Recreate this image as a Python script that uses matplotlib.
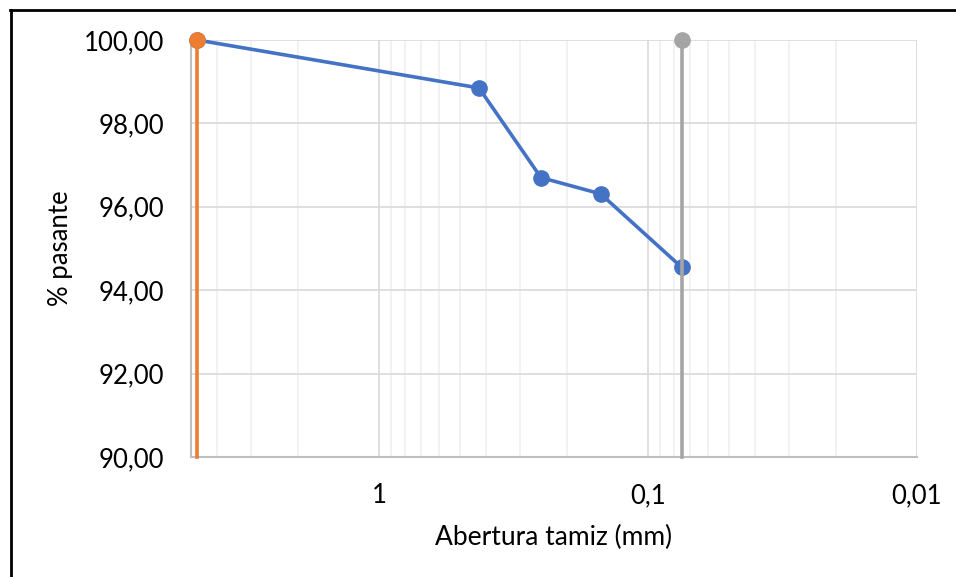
import matplotlib
matplotlib.use('Agg')
import matplotlib.pyplot as plt
from matplotlib.lines import Line2D
from matplotlib.ticker import FixedLocator, FuncFormatter, NullFormatter
import numpy as np

plt.rcParams['font.family'] = ['Lato', 'DejaVu Sans']

# Sieve openings (mm) and percent passing
abertura = [4.75, 0.425, 0.25, 0.15, 0.075]
pasante = [100.0, 98.85, 96.70, 96.31, 94.55]

# Reference verticals: No. 4 and No. 200 sieves
tamiz_4 = [4.75, 4.75]
tamiz_200 = [0.075, 0.075]
limites_y = [90.0, 100.0]

x_ticks = [1, 0.1, 0.01]
x_ticklabels = ['1', '0,1', '0,01']
y_ticks = [90, 92, 94, 96, 98, 100]

fig = plt.figure(figsize=(9.56, 5.77), dpi=100)
ax = fig.add_axes([0.1998, 0.208, 0.7594, 0.7227])

ax.set_xscale('log')
ax.set_xlim(5, 0.01)
ax.set_ylim(90, 100)

minor = [m * d for d in (0.01, 0.1, 1) for m in range(2, 10) if m * d <= 5]
ax.xaxis.set_major_locator(FixedLocator(x_ticks))
ax.xaxis.set_major_formatter(FuncFormatter(lambda v, p: x_ticklabels[x_ticks.index(v)] if v in x_ticks else ''))
ax.xaxis.set_minor_locator(FixedLocator(minor))
ax.xaxis.set_minor_formatter(NullFormatter())
ax.yaxis.set_major_locator(FixedLocator(y_ticks))
ax.yaxis.set_major_formatter(FuncFormatter(lambda v, p: f'{v:.2f}'.replace('.', ',')))

ax.grid(True, which='major', color='#d9d9d9', linewidth=1.2)
ax.grid(True, which='minor', axis='x', color='#f0f0f0', linewidth=1.2)
ax.set_axisbelow(True)

ax.tick_params(which='both', length=0, labelsize=18.5, pad=19)
for s in ('top', 'right'):
    ax.spines[s].set_visible(False)
for s in ('left', 'bottom'):
    ax.spines[s].set_color('#bfbfbf')
    ax.spines[s].set_linewidth(1.5)

ax.plot(abertura, pasante, color='#4472C4', linewidth=2.6, marker='o',
        markersize=11, clip_on=False, zorder=3)
ax.plot(tamiz_4, limites_y, color='#ED7D31', linewidth=2.6, marker='o',
        markersize=11, markevery=[1], clip_on=False, zorder=4)
ax.plot(tamiz_200, limites_y, color='#A5A5A5', linewidth=2.6, marker='o',
        markersize=11, markevery=[1], clip_on=False, zorder=4)

ax.set_xlabel('Abertura tamiz (mm)', fontsize=19, labelpad=12)
ax.set_ylabel('% pasante', fontsize=18.5, labelpad=8)

# Chart frame (top and left edges)
fig.add_artist(Line2D([10 / 956, 1], [1 - 10 / 577, 1 - 10 / 577], color='black', linewidth=2))
fig.add_artist(Line2D([11 / 956, 11 / 956], [1 - 10 / 577, 0], color='black', linewidth=2))

fig.savefig('out.png', dpi=100, facecolor='white')
